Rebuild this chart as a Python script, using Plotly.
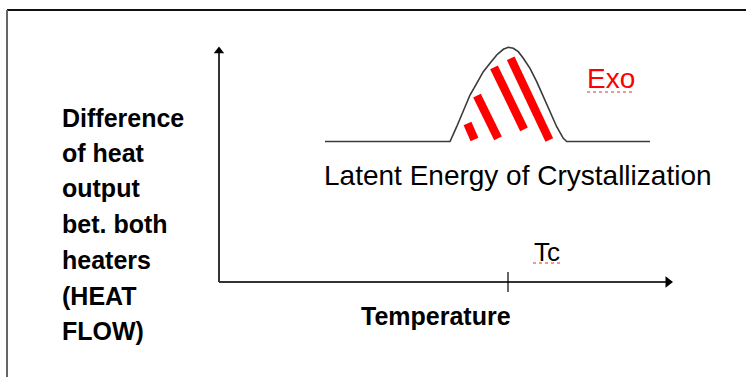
import plotly.graph_objects as go

W, H = 746, 377
FONT = "Liberation Sans, Arial, sans-serif"

# --- diagram data (diagram units: x to the right, y downward) ---
# DSC trace: flat baseline with an exothermic crystallization peak
curve_temp = [325, 450, 456.7, 463.3, 470, 476.7, 483.3, 490, 496.7, 503.3, 508.3,
              513.3, 518.3, 523.3, 530, 536.7, 543.3, 550, 556.7, 563.3, 566.7, 650]
curve_heat = [141.5, 141.5, 126.7, 110, 95, 83.3, 71.7, 63.3, 55, 49.3, 47.3,
              48.3, 51.7, 58.3, 68.3, 81.7, 96.7, 113.3, 126.7, 138.3, 141.5, 141.5]

# red hatch strokes marking the latent-energy area (start/end points)
hatch_x0 = [467.5, 477.0, 494.0, 510.7]
hatch_y0 = [123.5, 95.7, 67.3, 58.3]
hatch_x1 = [474.5, 498.0, 524.0, 549.3]
hatch_y1 = [139.5, 138.3, 129.3, 140.0]

# axes of the schematic
origin = (219, 282)
y_axis_top = 47
x_axis_end = 672
tc_temp = 508

# text
ylabel_lines = ["Difference", "of heat", "output", "bet. both", "heaters", "(HEAT", "FLOW)"]
ylabel_y = [118, 153, 188, 224, 260, 296, 331]
xlabel = "Temperature"
peak_label = "Latent Energy of Crystallization"
exo_label = "Exo"
tc_label = "Tc"

fig = go.Figure()

# baseline + peak
fig.add_trace(go.Scatter(x=curve_temp, y=curve_heat, mode="lines",
                         line=dict(color="#3a3a3a", width=1.6), hoverinfo="skip"))

# hatch strokes
for xa, ya, xb, yb in zip(hatch_x0, hatch_y0, hatch_x1, hatch_y1):
    fig.add_trace(go.Scatter(x=[xa, xb], y=[ya, yb], mode="lines",
                             line=dict(color="#ff0000", width=8.5), hoverinfo="skip"))

# y axis with arrow
fig.add_trace(go.Scatter(x=[origin[0], origin[0]], y=[origin[1], y_axis_top + 5], mode="lines",
                         line=dict(color="black", width=1.6), hoverinfo="skip"))
fig.add_trace(go.Scatter(x=[origin[0]], y=[y_axis_top + 4], mode="markers",
                         marker=dict(symbol="triangle-up", size=9, color="black"), hoverinfo="skip"))
# x axis with arrow
fig.add_trace(go.Scatter(x=[origin[0], x_axis_end - 5], y=[origin[1], origin[1]], mode="lines",
                         line=dict(color="#333333", width=1.8), hoverinfo="skip"))
fig.add_trace(go.Scatter(x=[x_axis_end - 4], y=[origin[1]], mode="markers",
                         marker=dict(symbol="triangle-right", size=10, color="black"), hoverinfo="skip"))
# Tc tick
fig.add_trace(go.Scatter(x=[tc_temp, tc_temp], y=[origin[1] - 10, origin[1] + 10], mode="lines",
                         line=dict(color="black", width=1.2), hoverinfo="skip"))

# frame (top and left edges)
fig.add_shape(type="line", xref="x", yref="y", x0=7, y0=10, x1=W, y1=10,
              line=dict(color="#111111", width=2))
fig.add_shape(type="line", xref="x", yref="y", x0=7, y0=10, x1=7, y1=H,
              line=dict(color="#666666", width=2))

# spell-check style wavy underlines
fig.add_shape(type="line", xref="x", yref="y", x0=587, y0=92, x1=633, y1=92,
              line=dict(color="#e03030", width=1, dash="dot"))
fig.add_shape(type="line", xref="x", yref="y", x0=533, y0=263, x1=560, y1=263,
              line=dict(color="#e03030", width=1, dash="dot"))

# annotations
for txt, yy in zip(ylabel_lines, ylabel_y):
    fig.add_annotation(x=60, y=yy, text=f"<b>{txt}</b>", showarrow=False, xanchor="left",
                       yanchor="middle", font=dict(family=FONT, size=25, color="black"))
fig.add_annotation(x=436, y=316, text=f"<b>{xlabel}</b>", showarrow=False,
                   xanchor="center", yanchor="middle", font=dict(family=FONT, size=25, color="black"))
fig.add_annotation(x=518, y=175, text=peak_label, showarrow=False,
                   xanchor="center", yanchor="middle", font=dict(family=FONT, size=28, color="black"))
fig.add_annotation(x=611, y=78, text=exo_label, showarrow=False,
                   xanchor="center", yanchor="middle", font=dict(family=FONT, size=28, color="#ff0000"))
fig.add_annotation(x=547, y=252, text=tc_label, showarrow=False,
                   xanchor="center", yanchor="middle", font=dict(family=FONT, size=26, color="black"))

fig.update_layout(
    width=W, height=H, margin=dict(l=0, r=0, t=0, b=0),
    paper_bgcolor="white", plot_bgcolor="white", showlegend=False,
    xaxis=dict(range=[0, W], visible=False, fixedrange=True),
    yaxis=dict(range=[H, 0], visible=False, fixedrange=True),
)

fig.write_html("out.html", config=dict(displayModeBar=False),
               post_script="document.body.style.margin='0';document.body.style.overflow='hidden';")
